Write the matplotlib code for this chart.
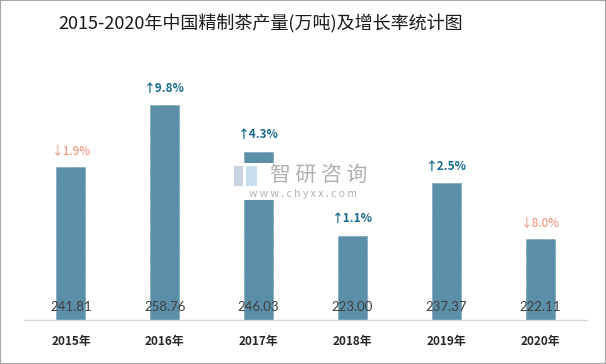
import matplotlib.pyplot as plt
from matplotlib.patches import Rectangle

# data
years = ["2015年", "2016年", "2017年", "2018年", "2019年", "2020年"]
output = [241.81, 258.76, 246.03, 223.00, 237.37, 222.11]
growth = [-1.9, 9.8, 4.3, 1.1, 2.5, -8.0]

cjk = ["Noto Sans CJK SC", "DejaVu Sans"]
plt.rcParams["font.family"] = cjk

fig = plt.figure(figsize=(6.06, 3.64), dpi=100)
ax = fig.add_axes([24 / 606, 44 / 364, 563 / 606, 256 / 364])

x = range(len(years))
ax.bar(x, output, width=0.31, bottom=0, color="#5b8fa8",
       edgecolor="#4d8099", linewidth=0.6, linestyle=":", zorder=2)
ax.set_ylim(200, 270)
ax.set_xlim(-0.5, len(years) - 0.5)

for i, (v, g) in enumerate(zip(output, growth)):
    ax.annotate(f"{v:.2f}", xy=(i, 200), xytext=(0, 9.4), textcoords="offset points",
                ha="center", va="center", fontsize=9.5, color="#404040",
                family=["Lato", "DejaVu Sans"], zorder=3)
    if g >= 0:
        txt, col, wt = f"↑{g:.1f}%", "#186a8e", "bold"
    else:
        txt, col, wt = f"↓{abs(g):.1f}%", "#ef8a6c", "normal"
    ax.annotate(txt, xy=(i, v), xytext=(0, 12.2), textcoords="offset points",
                ha="center", va="center", fontsize=8.5, color=col, fontweight=wt,
                family=cjk)

ax.set_xticks(list(x))
ax.set_xticklabels(years, fontsize=8.5, fontweight="bold", color="#262626")
ax.tick_params(axis="x", length=0, pad=11)
ax.set_yticks([])
for s in ["top", "right", "left"]:
    ax.spines[s].set_visible(False)
ax.spines["bottom"].set_color("#d9d9d9")
ax.spines["bottom"].set_linewidth(1)

fig.text(261 / 606, 1 - 24 / 364, "2015-2020年中国精制茶产量(万吨)及增长率统计图",
         ha="center", va="center", fontsize=13, color="#1a1a1a", fontweight="medium")

# watermark
fig.patches.append(Rectangle((232 / 606, 1 - 200 / 364), 146 / 606, 37 / 364,
                             transform=fig.transFigure, facecolor="white",
                             edgecolor="none", zorder=5))
fig.patches.append(Rectangle((234 / 606, 1 - 186 / 364), 9 / 606, 20 / 364,
                             transform=fig.transFigure, facecolor="#c9d3e3",
                             edgecolor="none", zorder=6))
fig.patches.append(Rectangle((246 / 606, 1 - 186 / 364), 11 / 606, 20 / 364,
                             transform=fig.transFigure, facecolor="#c7dff0",
                             edgecolor="none", zorder=6))
fig.text(319 / 606, 1 - 175 / 364, "智 研 咨 询", ha="center", va="center",
         fontsize=15, color="#b0b0b0", zorder=7)
fig.text(303 / 606, 1 - 194 / 364, "w w w . c h y x x . c o m", ha="center",
         va="center", fontsize=7.5, color="#b0b0b0", zorder=7)

# outer frame
fig.patches.append(Rectangle((0, 0), 1, 1, transform=fig.transFigure,
                             facecolor="none", edgecolor="#a6a6a6",
                             linewidth=1.5, zorder=10))

plt.savefig("out.png", dpi=100)
